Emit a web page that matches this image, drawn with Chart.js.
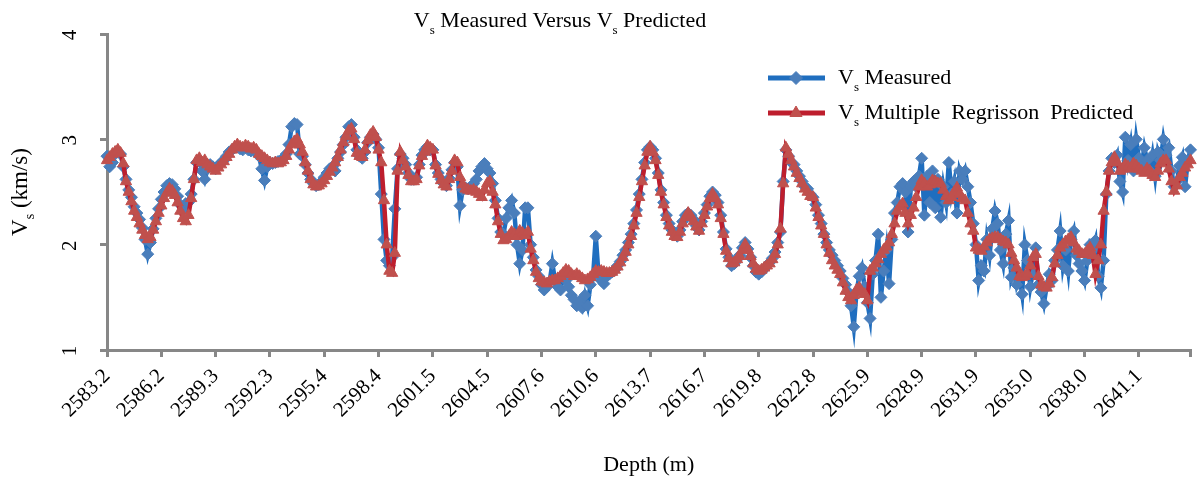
<!DOCTYPE html>
<html>
<head>
<meta charset="utf-8">
<title>Vs Measured Versus Vs Predicted</title>
<script src="https://cdn.jsdelivr.net/npm/chart.js@4.4.0/dist/chart.umd.min.js"></script>
<style>
  html, body { margin: 0; padding: 0; background: #fff; }
  #wrap { position: relative; width: 1198px; height: 484px; }
</style>
</head>
<body>
<div id="wrap"><canvas id="vs-chart"></canvas></div>
<script>
// Vs log: measured vs multiple regression prediction, one sample every 0.1524 m
const measured = [
  2.84, 2.74, 2.78, 2.86, 2.88, 2.86, 2.74, 2.62, 2.52, 2.45, 2.36, 2.30, 2.24, 2.16, 2.05, 1.91, 2.02, 2.15, 2.25, 2.34,
  2.43, 2.50, 2.56, 2.58, 2.57, 2.53, 2.46, 2.38, 2.33, 2.39, 2.40, 2.48, 2.62, 2.78, 2.80, 2.70, 2.62, 2.72, 2.76, 2.74,
  2.72, 2.75, 2.78, 2.80, 2.84, 2.88, 2.90, 2.92, 2.93, 2.91, 2.90, 2.92, 2.90, 2.89, 2.90, 2.88, 2.84, 2.72, 2.61, 2.74,
  2.78, 2.77, 2.78, 2.79, 2.80, 2.82, 2.86, 2.95, 3.12, 3.15, 3.14, 2.86, 2.84, 2.76, 2.68, 2.62, 2.58, 2.56, 2.57, 2.60,
  2.64, 2.68, 2.72, 2.74, 2.70, 2.82, 2.88, 2.95, 3.02, 3.12, 3.14, 3.02, 2.90, 2.84, 2.82, 2.88, 2.97, 3.02, 3.05, 3.00,
  2.92, 2.48, 2.05, 1.85, 1.80, 1.88, 2.34, 2.72, 2.86, 2.82, 2.76, 2.68, 2.62, 2.62, 2.64, 2.76, 2.85, 2.90, 2.93, 2.90,
  2.90, 2.76, 2.68, 2.62, 2.58, 2.56, 2.63, 2.71, 2.78, 2.74, 2.37, 2.52, 2.54, 2.53, 2.55, 2.58, 2.62, 2.70, 2.74, 2.77,
  2.72, 2.68, 2.58, 2.42, 2.25, 2.12, 2.10, 2.25, 2.35, 2.42, 2.30, 2.00, 1.82, 1.95, 2.35, 2.35, 2.00, 1.88, 1.76, 1.70,
  1.62, 1.57, 1.60, 1.65, 1.82, 1.66, 1.60, 1.57, 1.70, 1.66, 1.60, 1.52, 1.48, 1.42, 1.46, 1.40, 1.52, 1.42, 1.62, 1.70,
  2.08, 1.72, 1.66, 1.63, 1.70, 1.72, 1.74, 1.76, 1.80, 1.84, 1.90, 1.95, 2.02, 2.10, 2.20, 2.33, 2.48, 2.62, 2.78, 2.90,
  2.93, 2.90, 2.82, 2.68, 2.52, 2.40, 2.28, 2.20, 2.14, 2.10, 2.08, 2.14, 2.22, 2.28, 2.30, 2.28, 2.24, 2.18, 2.14, 2.22,
  2.30, 2.38, 2.46, 2.50, 2.47, 2.40, 2.28, 2.12, 1.96, 1.88, 1.80, 1.82, 1.86, 1.90, 1.97, 2.02, 1.96, 1.88, 1.80, 1.74,
  1.72, 1.74, 1.77, 1.80, 1.83, 1.87, 1.93, 2.02, 2.12, 2.60, 2.90, 2.84, 2.78, 2.76, 2.70, 2.65, 2.60, 2.55, 2.53, 2.48,
  2.45, 2.38, 2.28, 2.20, 2.10, 2.02, 1.95, 1.90, 1.85, 1.80, 1.75, 1.68, 1.62, 1.55, 1.42, 1.22, 1.55, 1.70, 1.78, 1.60,
  1.45, 1.30, 1.72, 1.85, 2.10, 1.50, 1.75, 1.95, 1.63, 2.05, 2.30, 2.40, 2.55, 2.58, 2.50, 2.12, 2.55, 2.60, 2.55, 2.65,
  2.82, 2.28, 2.65, 2.40, 2.70, 2.35, 2.62, 2.26, 2.55, 2.40, 2.78, 2.48, 2.60, 2.30, 2.70, 2.62, 2.70, 2.55, 2.40, 2.20,
  2.00, 1.66, 1.80, 1.75, 2.05, 1.90, 2.15, 2.32, 2.20, 1.95, 1.82, 2.10, 2.23, 1.69, 1.78, 1.62, 1.70, 1.53, 2.00, 1.85,
  1.60, 1.75, 1.97, 1.62, 1.55, 1.44, 1.60, 1.72, 1.66, 1.85, 1.95, 2.13, 1.80, 1.95, 1.75, 2.05, 2.13, 1.90, 1.82, 1.75,
  1.66, 1.85, 2.00, 1.95, 2.04, 1.70, 1.59, 1.85, 2.48, 2.70, 2.82, 2.78, 2.85, 2.60, 2.50, 3.02, 2.80, 2.95, 2.70, 3.00,
  2.82, 2.75, 2.92, 2.80, 2.70, 2.85, 2.65, 2.88, 2.80, 3.00, 2.85, 2.92, 2.70, 2.55, 2.60, 2.75, 2.83, 2.55, 2.80, 2.90
];

const predicted = [
  2.80, 2.83, 2.86, 2.88, 2.90, 2.87, 2.77, 2.60, 2.50, 2.41, 2.32, 2.26, 2.20, 2.14, 2.09, 2.05, 2.07, 2.14, 2.22, 2.30,
  2.37, 2.44, 2.49, 2.53, 2.51, 2.47, 2.40, 2.32, 2.25, 2.22, 2.28, 2.44, 2.62, 2.80, 2.82, 2.78, 2.80, 2.76, 2.74, 2.72,
  2.70, 2.73, 2.76, 2.79, 2.83, 2.86, 2.90, 2.93, 2.95, 2.93, 2.92, 2.94, 2.93, 2.91, 2.92, 2.90, 2.86, 2.84, 2.82, 2.80,
  2.78, 2.77, 2.78, 2.77, 2.78, 2.80, 2.84, 2.90, 2.95, 2.98, 3.00, 2.95, 2.88, 2.78, 2.70, 2.62, 2.57, 2.55, 2.56, 2.58,
  2.61, 2.65, 2.69, 2.73, 2.78, 2.83, 2.90, 2.97, 3.03, 3.08, 3.10, 3.00, 2.87, 2.84, 2.83, 2.90, 2.99, 3.04, 3.07, 3.02,
  2.90, 2.78, 2.42, 2.00, 1.75, 1.73, 1.92, 2.70, 2.88, 2.80, 2.74, 2.66, 2.60, 2.60, 2.62, 2.75, 2.84, 2.88, 2.94, 2.92,
  2.90, 2.75, 2.67, 2.61, 2.57, 2.55, 2.62, 2.70, 2.80, 2.78, 2.64, 2.57, 2.53, 2.52, 2.51, 2.52, 2.50, 2.48, 2.45, 2.52,
  2.58, 2.60, 2.50, 2.38, 2.22, 2.10, 2.04, 2.05, 2.08, 2.12, 2.10, 2.08, 2.13, 2.11, 2.09, 2.12, 1.96, 1.85, 1.74, 1.68,
  1.65, 1.64, 1.63, 1.65, 1.66, 1.66, 1.68, 1.70, 1.73, 1.76, 1.75, 1.72, 1.70, 1.72, 1.70, 1.68, 1.66, 1.67, 1.69, 1.72,
  1.75, 1.74, 1.75, 1.74, 1.73, 1.73, 1.74, 1.76, 1.79, 1.83, 1.88, 1.93, 2.00, 2.08, 2.18, 2.30, 2.45, 2.60, 2.75, 2.88,
  2.93, 2.88, 2.80, 2.66, 2.50, 2.38, 2.26, 2.18, 2.12, 2.08, 2.07, 2.12, 2.20, 2.26, 2.30, 2.27, 2.22, 2.17, 2.13, 2.20,
  2.28, 2.36, 2.44, 2.48, 2.44, 2.38, 2.25, 2.10, 1.94, 1.87, 1.82, 1.83, 1.86, 1.89, 1.95, 2.00, 1.95, 1.89, 1.82, 1.77,
  1.75, 1.76, 1.78, 1.80, 1.82, 1.86, 1.91, 2.00, 2.15, 2.58, 2.92, 2.86, 2.80, 2.74, 2.68, 2.63, 2.58, 2.53, 2.50, 2.46,
  2.45, 2.35, 2.26, 2.18, 2.10, 2.00, 1.92, 1.85, 1.80, 1.76, 1.72, 1.64, 1.56, 1.50, 1.47, 1.52, 1.57, 1.59, 1.55, 1.53,
  1.47, 1.75, 1.78, 1.82, 1.86, 1.91, 1.95, 1.98, 2.02, 2.10, 2.20, 2.32, 2.36, 2.39, 2.30, 2.20, 2.28, 2.35, 2.45, 2.55,
  2.61, 2.58, 2.55, 2.57, 2.61, 2.60, 2.58, 2.58, 2.52, 2.46, 2.42, 2.45, 2.50, 2.54, 2.48, 2.44, 2.42, 2.30, 2.20, 2.13,
  1.97, 1.95, 1.94, 1.98, 2.02, 2.05, 2.06, 2.07, 2.07, 2.05, 2.03, 2.02, 2.00, 1.92, 1.85, 1.78, 1.70, 1.69, 1.70, 1.72,
  1.80, 1.88, 1.91, 1.70, 1.62, 1.60, 1.59, 1.63, 1.69, 1.82, 1.90, 1.97, 2.00, 2.03, 2.05, 2.07, 2.02, 1.96, 1.94, 1.91,
  1.91, 1.94, 1.97, 1.90, 1.72, 1.85, 2.00, 2.32, 2.50, 2.70, 2.78, 2.83, 2.78, 2.70, 2.72, 2.76, 2.74, 2.72, 2.77, 2.75,
  2.72, 2.70, 2.68, 2.72, 2.70, 2.66, 2.64, 2.70, 2.77, 2.80, 2.80, 2.72, 2.60, 2.51, 2.56, 2.64, 2.68, 2.73, 2.76, 2.80
];

// depth axis: labelled every 20 samples
const xTickLabels = [
  '2583.2', '2586.2', '2589.3', '2592.3', '2595.4', '2598.4', '2601.5', '2604.5', '2607.6', '2610.6',
  '2613.7', '2616.7', '2619.8', '2622.8', '2625.9', '2628.9', '2631.9', '2635.0', '2638.0', '2641.1'
];
const yTickLabels = ['1', '2', '3', '4'];

const depthStart = 2583.18;
const depthStep = 0.1524;
const depths = measured.map((_, i) => (depthStart + i * depthStep).toFixed(2));

const SERIF = '"Liberation Serif", "Times New Roman", serif';
const AXIS_GREY = '#878787';
const BLUE_LINE = '#1f6ebf';
const BLUE_MARK = '#4a7ebb';
const RED_LINE = '#be1e2d';
const RED_MARK = '#c0504d';

// text with subscript pieces, parts = [[text, isSub], ...]
function richWidth(ctx, parts, size) {
  let w = 0;
  parts.forEach(([text, sub]) => {
    ctx.font = (sub ? Math.round(size * 0.6) : size) + 'px ' + SERIF;
    w += ctx.measureText(text).width;
  });
  return w;
}

function drawRich(ctx, parts, x, y, size) {
  parts.forEach(([text, sub]) => {
    ctx.font = (sub ? Math.round(size * 0.6) : size) + 'px ' + SERIF;
    ctx.fillText(text, x, sub ? y + size * 0.3 : y);
    x += ctx.measureText(text).width;
  });
}

const decorPlugin = {
  id: 'decor',
  afterDraw(chart) {
    const ctx = chart.ctx;
    const area = chart.chartArea;
    const yScale = chart.scales.y;
    ctx.save();
    ctx.fillStyle = '#000';
    ctx.textAlign = 'left';
    ctx.textBaseline = 'alphabetic';

    // title
    const title = [['V'], ['s', true], [' Measured Versus V'], ['s', true], [' Predicted']];
    const tw = richWidth(ctx, title, 22);
    drawRich(ctx, title, 560 - tw / 2, 27, 22);

    // y tick labels, turned like the axis title
    yTickLabels.forEach(lbl => {
      const py = yScale.getPixelForValue(Number(lbl));
      ctx.save();
      ctx.translate(76, py + 1);
      ctx.rotate(-Math.PI / 2);
      ctx.font = '21px ' + SERIF;
      ctx.textAlign = 'center';
      ctx.fillText(lbl, 0, 0);
      ctx.restore();
    });

    // y axis title
    const ytitle = [['V'], ['s', true], [' (km/s)']];
    const yw = richWidth(ctx, ytitle, 23);
    ctx.save();
    ctx.translate(27, (area.top + area.bottom) / 2);
    ctx.rotate(-Math.PI / 2);
    ctx.fillStyle = '#000';
    drawRich(ctx, ytitle, -yw / 2, 0, 23);
    ctx.restore();

    // legend
    const rows = [
      { y: 78, line: BLUE_LINE, mark: BLUE_MARK, style: 'rectRot', r: 6.5,
        text: [['V'], ['s', true], [' Measured']] },
      { y: 113, line: RED_LINE, mark: RED_MARK, style: 'triangle', r: 7,
        text: [['V'], ['s', true], [' Multiple  Regrisson  Predicted']] }
    ];
    rows.forEach(row => {
      ctx.strokeStyle = row.line;
      ctx.lineWidth = 5;
      ctx.beginPath();
      ctx.moveTo(768, row.y);
      ctx.lineTo(825, row.y);
      ctx.stroke();
      ctx.fillStyle = row.mark;
      ctx.strokeStyle = row.mark;
      ctx.lineWidth = 1;
      Chart.helpers.drawPoint(ctx, { pointStyle: row.style, radius: row.r, rotation: 0, borderWidth: 1 }, 796, row.y);
      ctx.fillStyle = '#000';
      drawRich(ctx, row.text, 838, row.y + 6, 22);
    });
    ctx.restore();
  }
};

const ctx = document.getElementById('vs-chart').getContext('2d');
const vsChart = new Chart(ctx, {
  type: 'line',
  data: {
    labels: depths,
    datasets: [
      {
        label: 'Vs Measured',
        data: measured,
        order: 1,
        borderColor: BLUE_LINE,
        borderWidth: 4.5,
        pointStyle: 'rectRot',
        pointRadius: 6,
        pointBackgroundColor: BLUE_MARK,
        pointBorderColor: BLUE_MARK,
        pointBorderWidth: 1,
        tension: 0,
        fill: false
      },
      {
        label: 'Vs Multiple Regrisson Predicted',
        data: predicted,
        order: 0,
        borderColor: RED_LINE,
        borderWidth: 4.5,
        pointStyle: 'triangle',
        pointRadius: 6.5,
        pointBackgroundColor: RED_MARK,
        pointBorderColor: RED_MARK,
        pointBorderWidth: 1,
        tension: 0,
        fill: false
      }
    ]
  },
  options: {
    responsive: true,
    maintainAspectRatio: false,
    animation: false,
    layout: { padding: { top: 34, right: 5, left: 0, bottom: 0 } },
    plugins: {
      legend: { display: false },
      tooltip: { enabled: false },
      title: { display: false }
    },
    scales: {
      x: {
        type: 'category',
        offset: false,
        afterFit(scale) {
          scale.height = 134;
          scale.paddingRight = 0;
        },
        border: { display: true, color: AXIS_GREY, width: 3 },
        grid: {
          drawOnChartArea: false,
          drawTicks: true,
          tickLength: 7,
          color: AXIS_GREY,
          lineWidth: 3
        },
        ticks: {
          autoSkip: false,
          minRotation: 45,
          maxRotation: 45,
          color: '#000',
          font: { family: SERIF, size: 21 },
          padding: 7,
          callback(value, index) {
            if (index % 20 === 0) return xTickLabels[index / 20];
            if (index === depths.length - 1) return '';
            return null;
          }
        },
        title: {
          display: true,
          text: 'Depth (m)',
          color: '#000',
          font: { family: SERIF, size: 22 },
          padding: { top: 0, bottom: 6 }
        }
      },
      y: {
        min: 1,
        max: 4,
        afterFit(scale) { scale.width = 107; },
        border: { display: true, color: AXIS_GREY, width: 3 },
        grid: {
          drawOnChartArea: false,
          drawTicks: true,
          tickLength: 7,
          color: AXIS_GREY,
          lineWidth: 3
        },
        ticks: { stepSize: 1, display: false }
      }
    }
  },
  plugins: [decorPlugin]
});
</script>
</body>
</html>
